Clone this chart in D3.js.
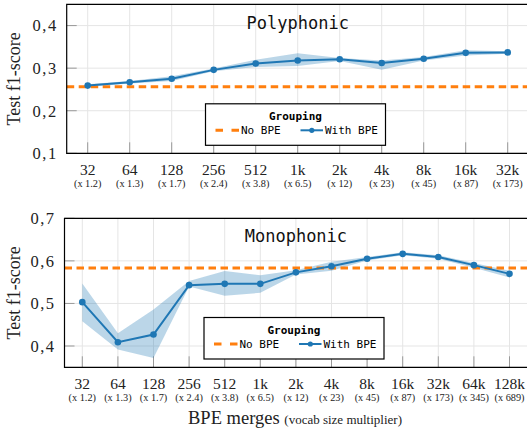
<!DOCTYPE html>
<html>
<head>
<meta charset="utf-8">
<script src="https://cdn.jsdelivr.net/npm/d3@7"></script>
<style>
  body { margin: 0; background: #fff; }
  svg { display: block; }
</style>
</head>
<body>
<div id="chart"></div>
<script>
// tick labels
const polyMerges = ['32', '64', '128', '256', '512', '1k', '2k', '4k', '8k', '16k', '32k']
const polyMult = ['1.2', '1.3', '1.7', '2.4', '3.8', '6.5', '12', '23', '45', '87', '173']
const monoMerges = ['32', '64', '128', '256', '512', '1k', '2k', '4k', '8k', '16k', '32k', '64k', '128k']
const monoMult = ['1.2', '1.3', '1.7', '2.4', '3.8', '6.5', '12', '23', '45', '87', '173', '345', '689']

// series values
const polyMean = [0.259, 0.267, 0.275, 0.296, 0.311, 0.318, 0.321, 0.312, 0.322, 0.336, 0.337]
const polyLow = [0.256, 0.264, 0.270, 0.293, 0.303, 0.305, 0.317, 0.296, 0.318, 0.330, 0.334]
const polyHigh = [0.262, 0.270, 0.281, 0.299, 0.320, 0.335, 0.324, 0.318, 0.326, 0.342, 0.340]
const polyNoBpe = 0.2565

const monoMean = [0.503, 0.409, 0.427, 0.543, 0.546, 0.546, 0.573, 0.5875, 0.605, 0.6165, 0.609, 0.590, 0.5695]
const monoLow = [0.458, 0.392, 0.372, 0.540, 0.518, 0.525, 0.568, 0.577, 0.601, 0.613, 0.605, 0.584, 0.561]
const monoHigh = [0.547, 0.430, 0.486, 0.553, 0.576, 0.566, 0.578, 0.598, 0.609, 0.620, 0.613, 0.595, 0.577]
const monoNoBpe = 0.5835

const polyTicks = [0.1, 0.2, 0.3, 0.4]
const monoTicks = [0.4, 0.5, 0.6, 0.7]

const blue = '#1f77b4'
const orange = '#ff7f0e'
const serif = 'Liberation Serif, Times New Roman, serif'
const mono = 'DejaVu Sans Mono, monospace'

const svg = d3.select('#chart').append('svg')
  .attr('width', 527)
  .attr('height', 428)

const fmt = v => d3.format('.1f')(v).replace('.', ',')

function panel (cfg) {
  const g = svg.append('g')
  const x = d3.scaleBand().domain(cfg.merges).range([cfg.left, cfg.right]).padding(0)
  const cx = d => x(d) + x.bandwidth() / 2
  const y = d3.scaleLinear().domain(cfg.yDomain).range([cfg.bottom, cfg.top])
  const clipId = 'clip-' + cfg.name
  svg.append('clipPath').attr('id', clipId)
    .append('rect')
    .attr('x', cfg.left).attr('y', cfg.top)
    .attr('width', cfg.right - cfg.left).attr('height', cfg.bottom - cfg.top)

  // grid
  g.selectAll('.vgrid').data(cfg.merges).enter().append('line')
    .attr('x1', cx).attr('x2', cx)
    .attr('y1', cfg.top).attr('y2', cfg.bottom)
    .attr('stroke', '#e5e5e5').attr('stroke-width', 1)
  g.selectAll('.hgrid').data(cfg.ticks).enter().append('line')
    .attr('x1', cfg.left).attr('x2', cfg.right)
    .attr('y1', d => y(d)).attr('y2', d => y(d))
    .attr('stroke', '#e5e5e5').attr('stroke-width', 1)

  // inner ticks
  g.selectAll('.xtick').data(cfg.merges).enter().append('line')
    .attr('x1', cx).attr('x2', cx)
    .attr('y1', cfg.bottom).attr('y2', cfg.bottom - 11)
    .attr('stroke', '#999').attr('stroke-width', 1)
  g.selectAll('.ytick').data(cfg.ticks).enter().append('line')
    .attr('x1', cfg.left).attr('x2', cfg.left + 10)
    .attr('y1', d => y(d)).attr('y2', d => y(d))
    .attr('stroke', '#999').attr('stroke-width', 1)

  const data = cfg.merges.map((m, i) => ({ m: m, mean: cfg.mean[i], lo: cfg.low[i], hi: cfg.high[i] }))
  const plot = g.append('g').attr('clip-path', 'url(#' + clipId + ')')

  plot.append('path')
    .datum(data)
    .attr('d', d3.area().x(d => cx(d.m)).y0(d => y(d.lo)).y1(d => y(d.hi)))
    .attr('fill', blue).attr('fill-opacity', 0.3)

  plot.append('line')
    .attr('x1', cfg.left).attr('x2', cfg.right)
    .attr('y1', y(cfg.noBpe)).attr('y2', y(cfg.noBpe))
    .attr('stroke', orange).attr('stroke-width', 3)
    .attr('stroke-dasharray', '7.5,4.5')

  plot.append('path')
    .datum(data)
    .attr('d', d3.line().x(d => cx(d.m)).y(d => y(d.mean)))
    .attr('fill', 'none').attr('stroke', blue).attr('stroke-width', 2)

  plot.selectAll('.dot').data(data).enter().append('circle')
    .attr('cx', d => cx(d.m)).attr('cy', d => y(d.mean))
    .attr('r', 3.3).attr('fill', blue)

  // frame (right side is cut off)
  g.append('path')
    .attr('d', 'M' + (cfg.right + 5) + ',' + cfg.top + 'H' + cfg.left + 'V' + cfg.bottom + 'H' + (cfg.right + 5))
    .attr('fill', 'none').attr('stroke', '#000').attr('stroke-width', 1.2)

  // tick labels
  g.selectAll('.ylab').data(cfg.ticks).enter().append('text')
    .attr('x', cfg.left - 9).attr('y', d => y(d))
    .attr('dy', '0.35em')
    .attr('text-anchor', 'end')
    .attr('font-family', serif).attr('font-size', 16.5)
    .attr('letter-spacing', 1.5)
    .attr('fill', '#222')
    .text(fmt)
  g.selectAll('.xlab').data(cfg.merges).enter().append('text')
    .attr('x', cx).attr('y', cfg.bottom + 21.5)
    .attr('text-anchor', 'middle')
    .attr('font-family', serif).attr('font-size', 15.5)
    .attr('fill', '#222')
    .text(d => d)
  g.selectAll('.xsub').data(cfg.mult).enter().append('text')
    .attr('x', (d, i) => cx(cfg.merges[i])).attr('y', cfg.bottom + 34)
    .attr('text-anchor', 'middle')
    .attr('font-family', serif).attr('font-size', 10.3)
    .attr('fill', '#222')
    .text(d => '(x ' + d + ')')

  g.append('text')
    .attr('transform', 'translate(20,' + ((cfg.top + cfg.bottom) / 2) + ') rotate(-90)')
    .attr('text-anchor', 'middle')
    .attr('font-family', serif).attr('font-size', 18)
    .attr('fill', '#222')
    .text('Test f1-score')

  g.append('text')
    .attr('x', (cfg.left + cfg.right) / 2).attr('y', cfg.titleY)
    .attr('text-anchor', 'middle')
    .attr('font-family', mono).attr('font-size', 17)
    .attr('fill', '#111')
    .text(cfg.title)

  // legend
  const lg = g.append('g').attr('transform', 'translate(' + cfg.legX + ',' + cfg.legY + ')')
  lg.append('rect')
    .attr('x', 0).attr('y', 0).attr('width', 180).attr('height', 41.5)
    .attr('fill', '#fff').attr('stroke', '#000').attr('stroke-width', 1.2)
  lg.append('text')
    .attr('x', 90).attr('y', 16)
    .attr('text-anchor', 'middle')
    .attr('font-family', mono).attr('font-size', 11).attr('font-weight', 'bold')
    .text('Grouping')
  lg.append('line')
    .attr('x1', 10).attr('x2', 33.5).attr('y1', 26.5).attr('y2', 26.5)
    .attr('stroke', orange).attr('stroke-width', 3).attr('stroke-dasharray', '7.5,8.5')
  lg.append('text')
    .attr('x', 35.5).attr('y', 30.5)
    .attr('font-family', mono).attr('font-size', 11)
    .text('No BPE')
  lg.append('line')
    .attr('x1', 95).attr('x2', 117.5).attr('y1', 26.5).attr('y2', 26.5)
    .attr('stroke', blue).attr('stroke-width', 2)
  lg.append('circle')
    .attr('cx', 106.3).attr('cy', 26.5).attr('r', 2.6).attr('fill', blue)
  lg.append('text')
    .attr('x', 119.5).attr('y', 30.5)
    .attr('font-family', mono).attr('font-size', 11)
    .text('With BPE')
}

panel({
  name: 'poly', title: 'Polyphonic',
  merges: polyMerges, mult: polyMult,
  mean: polyMean, low: polyLow, high: polyHigh, noBpe: polyNoBpe,
  ticks: polyTicks, yDomain: [0.1, 0.45],
  left: 66.7, right: 528.7, top: 4.3, bottom: 153.3,
  titleY: 28.5, legX: 205.5, legY: 103.8
})

panel({
  name: 'mono', title: 'Monophonic',
  merges: monoMerges, mult: monoMult,
  mean: monoMean, low: monoLow, high: monoHigh, noBpe: monoNoBpe,
  ticks: monoTicks, yDomain: [0.35, 0.7],
  left: 64.5, right: 527.3, top: 218.3, bottom: 367.3,
  titleY: 242, legX: 204, legY: 317.5
})

// shared x axis title
const xt = svg.append('text')
  .attr('x', 295).attr('y', 423.5)
  .attr('text-anchor', 'middle')
  .attr('font-family', serif)
  .attr('fill', '#222')
xt.append('tspan').attr('font-size', 18.5).text('BPE merges ')
xt.append('tspan').attr('font-size', 13).text('(vocab size multiplier)')
</script>
</body>
</html>
